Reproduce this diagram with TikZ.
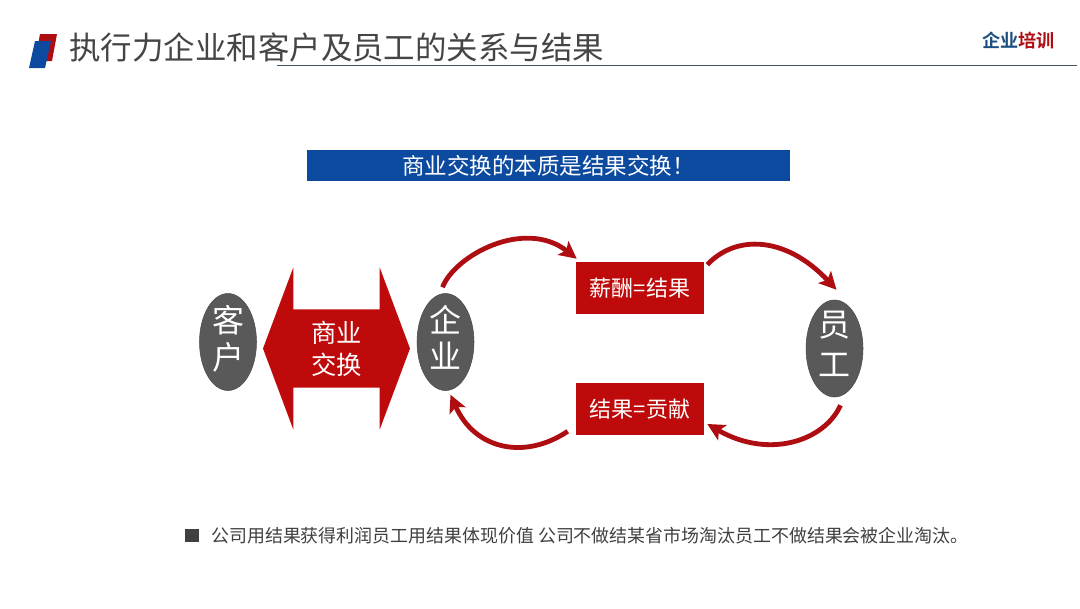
\documentclass[tikz,border=0pt]{standalone}
\usepackage{fontspec}
\setmainfont{Noto Sans CJK SC}[BoldFont={* Bold}]
\usetikzlibrary{arrows.meta,shapes.geometric,shapes.arrows}
\definecolor{brandred}{HTML}{BE0A0A}
\definecolor{flowred}{HTML}{AE0D12}
\definecolor{brandblue}{HTML}{0B4A9E}
\definecolor{ovalgray}{HTML}{595959}
\definecolor{titlegray}{HTML}{454545}
\definecolor{logoblue}{HTML}{1B4F80}
\definecolor{rulegray}{HTML}{3F5560}
\newcommand{\fsz}[1]{\fontsize{#1}{#1}\selectfont}
\newcommand{\ovaltext}[4]{\raisebox{#3}{\begin{tabular}{@{}c@{}}#1\\[#4]#2\end{tabular}}}
\tikzset{
  x=0.75pt,y=-0.75pt,
  oval/.style={ellipse,draw=black!70,line width=0.4pt,fill=ovalgray,text=white,inner sep=-14pt,
    minimum width=42.75pt,minimum height=72.75pt,align=center,font=\fsz{24}},
  redbox/.style={rectangle,fill=brandred,text=white,inner sep=0pt,minimum width=96pt,minimum height=39pt,font=\fsz{16.5}},
  flow/.style={draw=flowred,line width=3.6pt,-{Stealth[length=13pt,width=13pt,inset=3pt]}},
}
\begin{document}
\begin{tikzpicture}
\useasboundingbox (0,0) rectangle (1080,608);
\fill[white] (0,0) rectangle (1080,608);
% logo
\fill[flowred] (40,34) -- (57,34) -- (52,61) -- (35,61) -- cycle;
\fill[brandblue] (35,41) -- (51,41) -- (45,68) -- (29,68) -- cycle;
\node[anchor=west,inner sep=0pt,text=titlegray,font=\fsz{23.6}] (title) at (69,47) {执行力企业和客户及员工的关系与结果};
\coordinate (ruleL) at (277,65.5);
\coordinate (ruleR) at (1077,65.5);
\draw[rulegray,line width=0.7pt] (ruleL) -- (ruleR);
\node[anchor=east,inner sep=0pt,font=\bfseries\fsz{13.6}] (brand) at (1055,41) {\textcolor{logoblue}{企业}\textcolor{flowred}{培训}};
% banner
\node[rectangle,fill=brandblue,text=white,inner sep=0pt,minimum width=362.25pt,minimum height=23.25pt,font=\fsz{16.9}] (banner) at (548.5,165.5) {商业交换的本质是结果交换！};
% nodes
\node[oval] (kh) at (228,342) {\ovaltext{客}{户}{0pt}{0pt}};
\node[oval] (qy) at (445.5,342) {\ovaltext{企}{业}{0pt}{0pt}};
\node[oval] (yg) at (834.5,348.5) {\ovaltext{员}{工}{-1pt}{5pt}};
\node[double arrow,fill=brandred,text=white,align=center,inner xsep=0pt,inner ysep=7.6pt,
  minimum height=110.25pt,minimum width=121.5pt,double arrow head extend=30.75pt,
  double arrow tip angle=139,double arrow head indent=0pt,font=\fsz{19}] (jh) at (336.5,348.5) {商业\\[5pt]交换};
\node[redbox] (xc) at (640,288) {薪酬=结果};
\node[redbox] (gx) at (640,409) {结果=贡献};
% flows
\path[flow] ([shift={(-3,-6)}]qy.north) .. controls (455,255) and (525,218) .. ([shift={(1,-3)}]xc.north west);
\path[flow] ([shift={(3,3)}]xc.north east) .. controls (735,235) and (785,235) .. ([shift={(2,-10)}]yg.north);
\path[flow] ([shift={(6,8)}]yg.south) .. controls (825,440) and (770,460) .. ([shift={(3,15)}]gx.east);
\path[flow] ([shift={(-8,-4)}]gx.south west) .. controls (525,460) and (475,450) .. ([shift={(5,4)}]qy.south);
% footer
\fill[black!75] (185,529) rectangle (199,542);
\node[anchor=west,inner sep=0pt,text=black!75,font=\fsz{13.45}] (foot) at (211,535.5) {公司用结果获得利润员工用结果体现价值 公司不做结某省市场淘汰员工不做结果会被企业淘汰。};
\end{tikzpicture}
\end{document}
